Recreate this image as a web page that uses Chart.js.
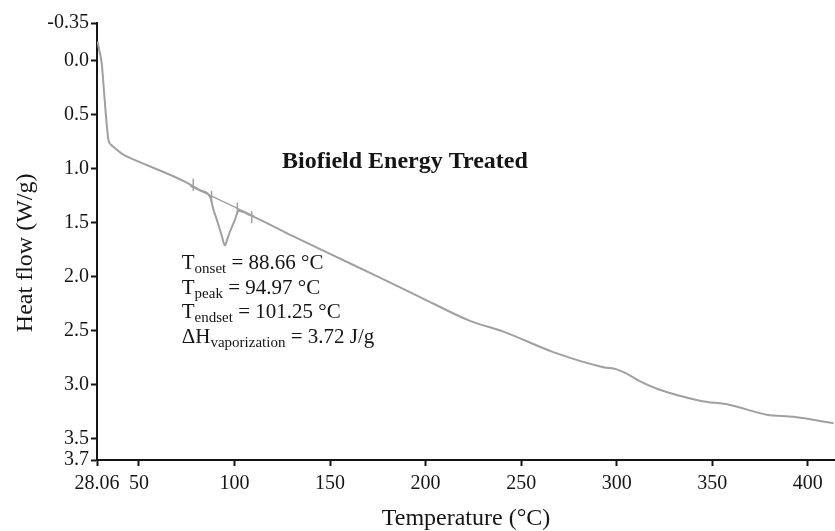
<!DOCTYPE html>
<html>
<head>
<meta charset="utf-8">
<script src="https://cdn.jsdelivr.net/npm/chart.js@4.4.0/dist/chart.umd.min.js"></script>
<style>
  html, body { margin: 0; padding: 0; background: #fff; }
</style>
</head>
<body>
<canvas id="dscChart" width="835" height="531"></canvas>
<script>
// DSC thermogram - biofield energy treated sample
const temperature = [28.3, 29.2, 30.5, 32.2, 33.2, 34.0, 35.5, 37.5, 41, 45.3, 53.2, 60, 68, 75, 82, 87.2,
    89, 90.7, 93.3, 95.0, 96.3, 97.7, 100.3, 102, 108.1, 130, 150, 175, 197.1, 223.2, 240.7, 266.8,
    293, 300, 305.2, 312, 321, 343.5, 359.3, 378.5, 392.4, 413.4];
const heatFlow = [-0.18, -0.10, 0.02, 0.39, 0.60, 0.73, 0.78, 0.81, 0.86, 0.90, 0.96, 1.01, 1.07, 1.13, 1.20, 1.26,
    1.38, 1.47, 1.62, 1.71, 1.65, 1.58, 1.47, 1.39, 1.43, 1.62, 1.79, 2.00, 2.19, 2.41, 2.51, 2.70,
    2.84, 2.86, 2.90, 2.97, 3.04, 3.15, 3.19, 3.28, 3.30, 3.36];

// tangent baseline across the endotherm and its little marker ticks
const baselineTemp = [76.7, 110.7];
const baselineFlow = [1.16, 1.445];
const markerTemp = [78.4, 88.0, 101.5, 109.0];
const markerFlow = [1.15, 1.26, 1.37, 1.45];

const xTicks = [28.06, 50, 100, 150, 200, 250, 300, 350, 400];
const xTickLabels = ['28.06', '50', '100', '150', '200', '250', '300', '350', '400'];
const yTicks = [-0.35, 0, 0.5, 1, 1.5, 2, 2.5, 3, 3.5, 3.7];
const yTickLabels = ['-0.35', '0.0', '0.5', '1.0', '1.5', '2.0', '2.5', '3.0', '3.5', '3.7'];

const chartTitle = 'Biofield Energy Treated';
const yTitle = 'Heat flow (W/g)';
const annotationLines = [
    ['T', 'onset', ' = 88.66 \u00B0C'],
    ['T', 'peak', ' = 94.97 \u00B0C'],
    ['T', 'endset', ' = 101.25 \u00B0C'],
    ['\u0394H', 'vaporization', ' = 3.72 J/g']
];

const serif = '"Liberation Serif", "Times New Roman", serif';
const curveColor = '#a0a0a0';
const ink = '#151515';

function toPoints(xs, ys) {
    return xs.map((v, i) => ({ x: v, y: ys[i] }));
}

// text drawn inside the plot (title + DSC results) and the y axis title
const textPlugin = {
    id: 'dscText',
    afterDraw(chart) {
        const { ctx, scales: { x, y } } = chart;
        ctx.save();
        ctx.fillStyle = ink;
        ctx.textBaseline = 'alphabetic';
        ctx.textAlign = 'left';
        ctx.font = 'bold 24px ' + serif;
        ctx.fillText(chartTitle, x.getPixelForValue(124.9), y.getPixelForValue(0.99));

        const left = x.getPixelForValue(72.4);
        const top = y.getPixelForValue(1.93);
        annotationLines.forEach(([main, sub, rest], i) => {
            const by = top + i * 24.5;
            let cx = left;
            ctx.font = '21px ' + serif;
            ctx.fillText(main, cx, by);
            cx += ctx.measureText(main).width;
            ctx.font = '15px ' + serif;
            ctx.fillText(sub, cx, by + 4);
            cx += ctx.measureText(sub).width;
            ctx.font = '21px ' + serif;
            ctx.fillText(rest, cx, by);
        });

        // y axis title, rotated
        ctx.translate(26, y.getPixelForValue(1.78));
        ctx.rotate(-Math.PI / 2);
        ctx.textAlign = 'center';
        ctx.textBaseline = 'middle';
        ctx.font = '24px ' + serif;
        ctx.fillText(yTitle, 0, 0);
        ctx.restore();
    }
};

const ctx = document.getElementById('dscChart').getContext('2d');
new Chart(ctx, {
    type: 'scatter',
    data: {
        datasets: [
            {
                data: toPoints(temperature, heatFlow),
                showLine: true,
                borderColor: curveColor,
                borderWidth: 2,
                pointRadius: 0,
                cubicInterpolationMode: 'monotone'
            },
            {
                data: toPoints(baselineTemp, baselineFlow),
                showLine: true,
                borderColor: curveColor,
                borderWidth: 1.5,
                pointRadius: 0
            },
            {
                data: toPoints(markerTemp, markerFlow),
                showLine: false,
                pointStyle: 'line',
                rotation: 90,
                pointRadius: 6,
                borderColor: curveColor,
                borderWidth: 1.5
            }
        ]
    },
    options: {
        responsive: false,
        animation: false,
        layout: { autoPadding: false, padding: { top: 23, right: 0, left: 0, bottom: 0 } },
        plugins: {
            legend: { display: false },
            tooltip: { enabled: false }
        },
        scales: {
            x: {
                type: 'linear',
                min: 28.06,
                max: 414.2,
                afterBuildTicks: (scale) => { scale.ticks = xTicks.map(v => ({ value: v })); },
                afterFit: (scale) => {
                    scale.height = 71;
                    scale.paddingLeft = 0;
                    scale.paddingRight = 0;
                },
                grid: { drawOnChartArea: false, drawTicks: true, tickLength: 6, tickColor: ink, tickWidth: 2 },
                border: { color: ink, width: 2 },
                ticks: {
                    color: ink,
                    font: { family: serif, size: 20 },
                    padding: 6,
                    maxRotation: 0,
                    autoSkip: false,
                    callback: (v) => xTickLabels[xTicks.indexOf(v)]
                },
                title: {
                    display: true,
                    text: 'Temperature (\u00B0C)',
                    color: ink,
                    font: { family: serif, size: 24, lineHeight: 1 },
                    padding: { top: 0, bottom: 0 }
                }
            },
            y: {
                type: 'linear',
                reverse: true,
                min: -0.35,
                max: 3.7,
                afterBuildTicks: (scale) => { scale.ticks = yTicks.map(v => ({ value: v })); },
                afterFit: (scale) => {
                    scale.width = 97;
                    scale.paddingTop = 0;
                    scale.paddingBottom = 0;
                },
                grid: { drawOnChartArea: false, drawTicks: true, tickLength: 6, tickColor: ink, tickWidth: 2 },
                border: { color: ink, width: 2 },
                ticks: {
                    color: ink,
                    font: { family: serif, size: 20 },
                    padding: 2,
                    autoSkip: false,
                    callback: (v) => yTickLabels[yTicks.indexOf(v)]
                }
            }
        }
    },
    plugins: [textPlugin]
});
</script>
</body>
</html>
